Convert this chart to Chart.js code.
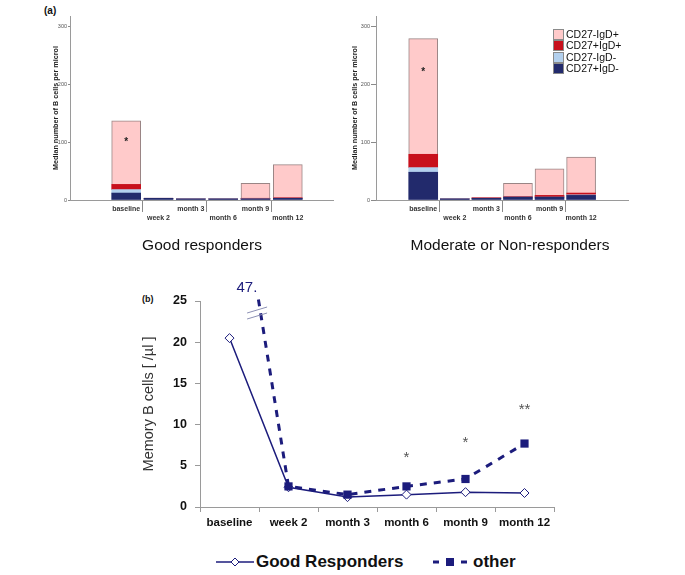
<!DOCTYPE html>
<html>
<head>
<meta charset="utf-8">
<script src="https://cdn.jsdelivr.net/npm/chart.js@4.4.0/dist/chart.umd.min.js"></script>
<style>
    body { margin: 0; background: #fff; width: 685px; height: 575px; position: relative; overflow: hidden;
           font-family: "Liberation Sans", Arial, sans-serif; color: #111; }
    .abs { position: absolute; }
    .panelTitle { font-size: 15.5px; width: 300px; text-align: center; top: 236px; }
    .legRow { position: absolute; left: 553px; font-size: 10.5px; height: 11px; line-height: 11px; white-space: nowrap; }
    .legRow span { display: inline-block; width: 9px; height: 9px; border: 1px solid #8a8a8a; vertical-align: top; margin-right: 2px; }
    .bLeg { font-size: 17px; font-weight: bold; top: 552px; }
</style>
</head>
<body>
<div class="abs" style="left:44px;top:5px;font-size:10px;font-weight:bold;">(a)</div>
<div class="abs" style="left:0;top:0;width:340px;height:260px;"><canvas id="goodChart"></canvas></div>
<div class="abs" style="left:340px;top:0;width:345px;height:260px;"><canvas id="modChart"></canvas></div>
<div class="abs panelTitle" style="left:52px;">Good responders</div>
<div class="abs panelTitle" style="left:360px;">Moderate or Non-responders</div>
<div id="subsetLegend"></div>

<div class="abs" style="left:142px;top:294px;font-size:9px;font-weight:bold;">(b)</div>
<div class="abs" style="left:0;top:255px;width:685px;height:290px;"><canvas id="memoryChart"></canvas></div>
<div id="lineLegend"></div>

<script>
    const categories = ["baseline", "week 2", "month 3", "month 6", "month 9", "month 12"];

    // (a) stacked subsets, bottom to top
    const subsetNames = ["CD27+IgD-", "CD27-IgD-", "CD27+IgD+", "CD27-IgD+"];
    const subsetColors = ["#222a6c", "#b3d0ee", "#c8101c", "#ffcaca"];
    const goodNavy = [12, 3, 2, 2, 2, 3];
    const goodLightBlue = [6, 0, 0, 0, 0, 0];
    const goodRed = [9, 0, 0, 0, 1, 1];
    const goodPink = [110, 0, 0, 0, 26, 57];
    const modNavy = [48, 2, 3, 5, 5, 8];
    const modLightBlue = [8, 0, 0, 0, 0, 1];
    const modRed = [23, 0, 1, 1, 3, 3];
    const modPink = [200, 0, 0, 23, 46, 62];
    const goodStarY = [103, null, null, null, null, null];
    const modStarY = [224, null, null, null, null, null];
    const barTicks = [0, 100, 200, 300];

    // (b) memory B cells
    const goodResponders = [20.5, 2.4, 1.2, 1.5, 1.8, 1.7];
    const otherResponders = [47, 2.5, 1.5, 2.5, 3.4, 7.7];
    const lineStars = ["", "", "", "*", "*", "**"];
    const lineStarY = [null, null, null, 6.3, 8.1, 12.1];
    const lineTicks = [0, 5, 10, 15, 20, 25];

    const navy = "#1c1c7c";
    const FONT = "'Liberation Sans', Arial, sans-serif";
    Chart.defaults.font.family = FONT;

    // asterisks inside the baseline bars
    const barStars = {
        id: "barStars",
        afterDatasetsDraw(chart, args, opts) {
            const ctx = chart.ctx;
            ctx.save();
            ctx.fillStyle = "#222";
            ctx.font = "bold 10px " + FONT;
            ctx.textAlign = "center";
            ctx.textBaseline = "middle";
            opts.starY.forEach((v, i) => {
                if (v === null) return;
                ctx.fillText("*", chart.scales.x.getPixelForValue(i), chart.scales.y.getPixelForValue(v) + 2);
            });
            ctx.restore();
        }
    };

    function makeBarChart(id, series, xMin, xMax, padLeft, padRight, axisWidth, yTick, starY) {
        const datasets = series.map((vals, k) => ({
            label: subsetNames[k],
            data: vals.map((v, i) => ({ x: i, y: v })),
            backgroundColor: subsetColors[k],
            borderColor: k === 3 ? "#9a8585" : subsetColors[k],
            borderWidth: k === 3 ? 1 : 0,
            barThickness: 29
        }));
        return new Chart(document.getElementById(id), {
            type: "bar",
            data: { datasets: datasets },
            plugins: [barStars],
            options: {
                responsive: true,
                maintainAspectRatio: false,
                animation: false,
                layout: { padding: { left: padLeft, right: padRight, top: 16, bottom: 12 } },
                plugins: { legend: { display: false }, tooltip: { enabled: false }, barStars: { starY: starY } },
                scales: {
                    x: {
                        type: "linear", stacked: true, min: xMin, max: xMax,
                        afterBuildTicks: s => { s.ticks = categories.map((c, i) => ({ value: i })); },
                        afterFit: s => { s.height = 48; },
                        grid: { drawOnChartArea: false, tickLength: 12,
                                tickColor: c => (c.index % 2 ? "#8a8a8a" : "rgba(0,0,0,0)") },
                        border: { color: "#9a9a9a" },
                        ticks: {
                            autoSkip: false, maxRotation: 0, padding: -7, color: "#333",
                            font: { size: 7, weight: "bold" },
                            callback: (v, i) => (i % 2 ? ["", categories[v]] : categories[v])
                        }
                    },
                    y: {
                        stacked: true, min: 0, max: 318,
                        afterBuildTicks: s => { s.ticks = barTicks.map(v => ({ value: v })); },
                        afterFit: s => { s.width = axisWidth; },
                        grid: { drawOnChartArea: false, tickLength: yTick, tickColor: "#8a8a8a" },
                        border: { color: "#9a9a9a" },
                        ticks: { padding: 1, color: "#555", font: { size: 5.5 } },
                        title: { display: true, text: "Median number of B cells per microl", color: "#222",
                                 padding: 0, font: { size: 7.2, weight: "bold" } }
                    }
                }
            }
        });
    }

    makeBarChart("goodChart", [goodNavy, goodLightBlue, goodRed, goodPink], -1.06, 5.72, 52, 7, 18, 2, goodStarY);
    makeBarChart("modChart", [modNavy, modLightBlue, modRed, modPink], -0.83, 5.82, 11, 57, 25, 5, modStarY);

    // legend for subsets, top entry first
    const legendBox = document.getElementById("subsetLegend");
    subsetNames.slice().reverse().forEach((name, k) => {
        const row = document.createElement("div");
        row.className = "legRow";
        row.style.top = (29 + k * 11.4) + "px";
        row.innerHTML = `<span style="background:${subsetColors[3 - k]}"></span>${name}`;
        legendBox.appendChild(row);
    });

    // stars, the "47" label and the axis break for panel (b)
    const lineNotes = {
        id: "lineNotes",
        afterDatasetsDraw(chart) {
            const ctx = chart.ctx;
            const x = chart.scales.x, y = chart.scales.y;
            const area = chart.chartArea;
            ctx.save();
            ctx.fillStyle = "#555";
            ctx.font = "15px " + FONT;
            ctx.textAlign = "center";
            ctx.textBaseline = "middle";
            lineStars.forEach((s, i) => {
                if (!s) return;
                ctx.fillText(s, x.getPixelForValue(i), y.getPixelForValue(lineStarY[i]) + 3);
            });

            const meta = chart.getDatasetMeta(0);
            const p0 = meta.data[0], p1 = meta.data[1];
            const crossX = yy => p0.x + (yy - p0.y) / (p1.y - p0.y) * (p1.x - p0.x);
            const yTop = area.top - 2;
            ctx.fillStyle = navy;
            ctx.font = "15px " + FONT;
            ctx.textAlign = "right";
            ctx.textBaseline = "alphabetic";
            ctx.fillText("47.", crossX(yTop) - 1, area.top - 9);

            const cy = area.top + 12;
            const cx = crossX(cy) - 3.5;
            ctx.strokeStyle = "#8c90b4";
            ctx.lineWidth = 1;
            [-3, 3].forEach(dy => {
                ctx.beginPath();
                ctx.moveTo(cx - 10, cy + dy + 3);
                ctx.lineTo(cx + 10, cy + dy - 3);
                ctx.stroke();
            });
            ctx.restore();
        }
    };

    new Chart(document.getElementById("memoryChart"), {
        type: "line",
        data: {
            labels: categories,
            datasets: [
                {
                    label: "other",
                    data: otherResponders,
                    borderColor: navy,
                    borderWidth: 3,
                    borderDash: [7, 7],
                    pointStyle: "rect",
                    pointRadius: 5.8,
                    pointBackgroundColor: navy,
                    pointBorderColor: navy,
                    pointBorderWidth: 0,
                    tension: 0,
                    clip: { left: 10, top: 2, right: 10, bottom: 10 }
                },
                {
                    label: "Good Responders",
                    data: goodResponders,
                    borderColor: navy,
                    borderWidth: 1.5,
                    pointStyle: "rectRot",
                    pointRadius: 4.5,
                    pointBackgroundColor: "#fff",
                    pointBorderColor: navy,
                    pointBorderWidth: 1,
                    tension: 0,
                    clip: 10
                }
            ]
        },
        plugins: [lineNotes],
        options: {
            responsive: true,
            maintainAspectRatio: false,
            animation: false,
            layout: { padding: { left: 140, right: 131, top: 46, bottom: 8 } },
            plugins: { legend: { display: false }, tooltip: { enabled: false } },
            scales: {
                x: {
                    offset: true,
                    afterFit: s => { s.height = 30; },
                    grid: { offset: true, drawOnChartArea: false, tickLength: 5, tickColor: "#9a9a9a" },
                    border: { color: "#9a9a9a" },
                    ticks: { padding: 4, color: "#111", font: { size: 11.5, weight: "bold" } }
                },
                y: {
                    min: 0, max: 25,
                    afterBuildTicks: s => { s.ticks = lineTicks.map(v => ({ value: v })); },
                    afterFit: s => { s.width = 60; },
                    grid: { drawOnChartArea: false, tickLength: 5, tickColor: "#9a9a9a" },
                    border: { color: "#9a9a9a" },
                    ticks: { padding: 8, color: "#111", font: { size: 12.5, weight: "bold" } },
                    title: { display: true, text: "Memory B cells [ /µl ]", color: "#333",
                             padding: 0, font: { size: 14.5 } }
                }
            }
        }
    });

    // legend for panel (b)
    document.getElementById("lineLegend").innerHTML = `
        <svg class="abs" style="left:216px;top:555px" width="38" height="14">
            <line x1="0" y1="7" x2="38" y2="7" stroke="${navy}" stroke-width="1.5"/>
            <polygon points="19,3 23,7 19,11 15,7" fill="#fff" stroke="${navy}" stroke-width="1"/>
        </svg>
        <div class="abs bLeg" style="left:256px;">Good Responders</div>
        <svg class="abs" style="left:432px;top:555px" width="38" height="14">
            <line x1="1" y1="7" x2="7" y2="7" stroke="${navy}" stroke-width="3"/>
            <rect x="14" y="3" width="8" height="8" fill="${navy}"/>
            <line x1="29" y1="7" x2="35" y2="7" stroke="${navy}" stroke-width="3"/>
        </svg>
        <div class="abs bLeg" style="left:473px;">other</div>
    `;
</script>
</body>
</html>
